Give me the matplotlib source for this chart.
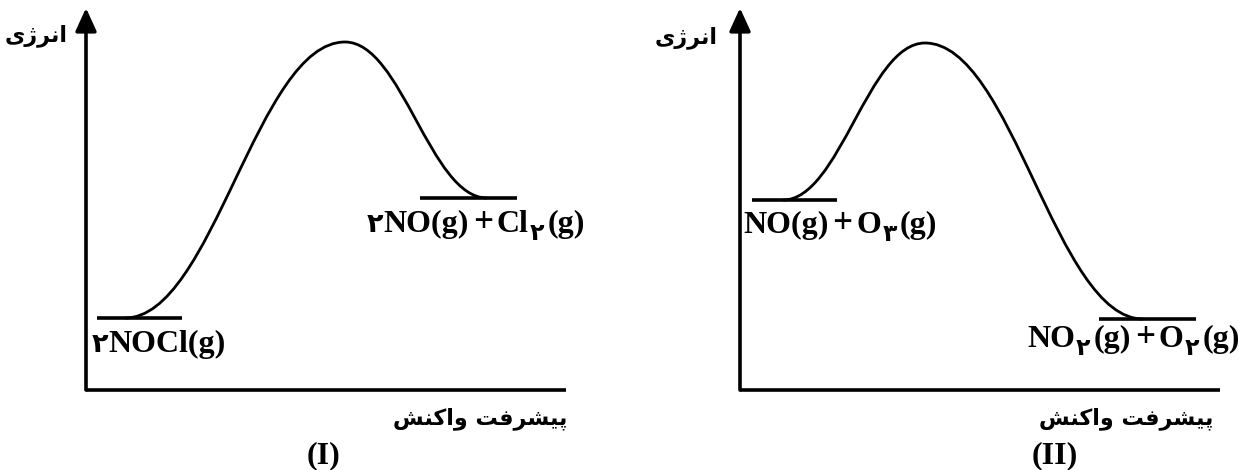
import matplotlib
matplotlib.use('Agg')
import matplotlib.pyplot as plt
from matplotlib.path import Path
from matplotlib.patches import PathPatch
from matplotlib.transforms import IdentityTransform

# ---------------- data ----------------
panel_names = ['(I)', '(II)']
# energy levels (arbitrary units): reactant, transition state, product
energy_I = [72, 348, 192]
energy_II = [190, 347, 71]

# chemical labels: (text, kind)  kind: 'n' normal, 's' subscript, 'o' operator, 'c' coefficient
react_I = [('\u06f2', 'c'), ('NOCl(g)', 'n')]
prod_I = [('\u06f2', 'c'), ('NO(g)', 'n'), ('+', 'o'), ('Cl', 'n'), ('\u06f2', 's'), ('(g)', 'n')]
react_II = [('NO(g)', 'n'), ('+', 'o'), ('O', 'n'), ('\u06f3', 's'), ('(g)', 'n')]
prod_II = [('NO', 'n'), ('\u06f2', 's'), ('(g)', 'n'), ('+', 'o'), ('O', 'n'), ('\u06f2', 's'), ('(g)', 'n')]

# Persian axis labels (presentation forms, visual order)
y_label = '\ufbfc\ufb8a\ufeae\ufee7\ufe8d'            # انرژی
x_label = '\ufeb6\ufee8\ufb90\ufe8d\ufeed \ufe96\ufed3\ufeae\ufeb8\ufbff\ufb58'  # پیشرفت واکنش

# ---------------- figure ----------------
W, H = 1250, 470
fig = plt.figure(figsize=(W / 100, H / 100), dpi=100)
fig.patch.set_facecolor('white')

SERIF = ['Liberation Serif', 'DejaVu Sans']
PERS = ['DejaVu Sans']
FS = 23


def make_axes(x_left, x_right):
    y_base, y_top = 390, 8
    ax = fig.add_axes([x_left / W, (H - y_base) / H, (x_right - x_left) / W, (y_base - y_top) / H])
    ax.set_xlim(0, x_right - x_left)
    ax.set_ylim(0, y_base - y_top)
    ax.axis('off')
    ax.annotate('', xy=(0, y_base - y_top), xytext=(0, 0),
                arrowprops=dict(arrowstyle='-|>,head_length=0.7,head_width=0.32',
                                lw=2.6, color='black', mutation_scale=20,
                                shrinkA=0, shrinkB=0), annotation_clip=False)
    ax.plot([0, x_right - x_left], [0, 0], color='black', lw=2.6,
            solid_capstyle='butt', clip_on=False)
    return ax


def profile(ax, levels, react_span, prod_span, start, peak, end, k=0.4):
    er, ets, ep = levels
    ax.plot(react_span, [er, er], color='black', lw=2.6, solid_capstyle='butt', clip_on=False)
    ax.plot(prod_span, [ep, ep], color='black', lw=2.6, solid_capstyle='butt', clip_on=False)
    d1 = peak - start
    d2 = end - peak
    verts = [(start, er), (start + k * d1, er), (peak - k * d1, ets), (peak, ets),
             (peak + k * d2, ets), (end - k * d2, ep), (end, ep)]
    codes = [Path.MOVETO] + [Path.CURVE4] * 6
    ax.add_patch(PathPatch(Path(verts, codes), facecolor='none', edgecolor='black',
                           lw=2.0, clip_on=False))


def formula(x, y_top, segs, fs=FS):
    r = fig.canvas.get_renderer()
    y = H - y_top
    for txt, kind in segs:
        size, dy, pad_l, pad_r = fs, 0, 0, 0
        if kind == 's':
            size, dy, pad_l, pad_r = fs * 0.74, -8, 1, 3
        elif kind == 'c':
            size = fs * 0.85
        elif kind == 'o':
            size, pad_l, pad_r = fs * 1.1, 4, 4
        x += pad_l
        t = fig.text(x, y + dy, txt, transform=IdentityTransform(), fontsize=size,
                     family=SERIF, fontweight='bold', ha='left', va='baseline')
        x += t.get_window_extent(r).width + pad_r


ax1 = make_axes(86, 566)
profile(ax1, energy_I, [11, 96], [334, 431], 39, 259, 401)
ax2 = make_axes(740, 1220)
profile(ax2, energy_II, [12, 97], [359, 456], 43, 185, 403)

formula(92, 352, react_I)
formula(367, 232, prod_I)
formula(743, 233, react_II)
formula(1027, 347, prod_II)

for xr, yc in [(68, 36), (718, 38)]:
    fig.text(xr, H - yc, y_label, transform=IdentityTransform(), fontsize=16,
             family=PERS, fontweight='bold', ha='right', va='center')
for xr in [567, 1213]:
    fig.text(xr, H - 419, x_label, transform=IdentityTransform(), fontsize=16,
             family=PERS, fontweight='bold', ha='right', va='center')
for name, xc in zip(panel_names, [324, 1055]):
    fig.text(xc, H - 456, name, transform=IdentityTransform(), fontsize=FS,
             family=SERIF, fontweight='bold', ha='center', va='center')

fig.savefig('out.png', dpi=100, facecolor='white')
